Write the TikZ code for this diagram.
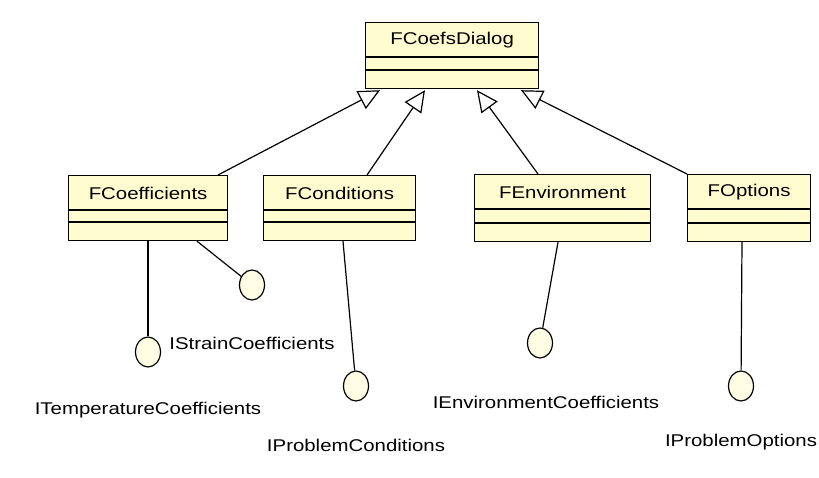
\documentclass[tikz,border=0pt]{standalone}
\usepackage{fontspec}
\setmainfont[FakeStretch=1.2]{Liberation Sans}
\usetikzlibrary{arrows.meta,calc,shapes.geometric}
\definecolor{clsfill}{RGB}{255,252,208}
\definecolor{ifill}{RGB}{255,253,228}
\tikzset{
  classbox/.style={draw=black, fill=clsfill, line width=0.9pt, inner sep=0pt, anchor=north west},
  compline/.style={draw=black, line width=0.9pt},
  classname/.style={font=\fontsize{12.75pt}{14pt}\selectfont, inner sep=0pt},
  iface/.style={draw=black, fill=ifill, ellipse, line width=0.9pt, minimum width=25*0.75pt, minimum height=30*0.75pt, inner sep=0pt},
  ilabel/.style={font=\fontsize{12.75pt}{14pt}\selectfont, inner sep=0pt},
  realize/.style={draw=black, line width=0.9pt},
  inherit/.style={draw=black, line width=0.9pt, -{Triangle[open, length=16pt, width=15pt, fill=white]}}
}
% #1 name, #2 x, #3 y top, #4 width, #5 height, #6 line1 offset, #7 line2 offset, #8 text
\newcommand\umlclass[8]{%
  \node[classbox, minimum width=#4*0.75pt, minimum height=#5*0.75pt] (#1) at (#2,#3) {};
  \draw[compline] ($(#1.north west)+(0,#6)$) -- ($(#1.north east)+(0,#6)$);
  \draw[compline] ($(#1.north west)+(0,#7)$) -- ($(#1.north east)+(0,#7)$);
  \node[classname] (#1-name) at ($(#1.north)+(0,#6/2+1)$) {#8};
}
\begin{document}
\begin{tikzpicture}[x=0.75pt, y=-0.75pt]
\useasboundingbox[fill=white] (0,0) rectangle (819,478);

\umlclass{dlg}{365}{22}{173}{66}{35}{48}{FCoefsDialog}
\umlclass{coef}{68}{175}{159}{65}{35}{47}{FCoefficients}
\umlclass{cond}{263}{175}{152}{65}{35}{47}{FConditions}
\umlclass{env}{474}{174}{176}{67}{35}{49}{FEnvironment}
\umlclass{opt}{687}{174}{123}{67}{35}{49}{FOptions}

% inheritance
\draw[inherit] ($(coef.north west)+(150,0)$) -- ($(dlg.south west)+(15,1)$);
\draw[inherit] ($(cond.north west)+(104,0)$) -- ($(dlg.south west)+(60,1)$);
\draw[inherit] ($(env.north west)+(64,0)$) -- ($(dlg.south west)+(112,1)$);
\draw[inherit] ($(opt.north west)+(0,0)$) -- ($(dlg.south west)+(156,1)$);

% interfaces
\node[iface] (itemp) at (148,352) {};
\node[ilabel] (itemp-l) at (148,410) {ITemperatureCoefficients};
\node[iface] (istrain) at (252,285) {};
\node[ilabel] (istrain-l) at (252,343) {IStrainCoefficients};
\node[iface] (iprobc) at (356,386) {};
\node[ilabel] (iprobc-l) at (356,445) {IProblemConditions};
\node[iface] (ienv) at (540,343) {};
\node[ilabel] (ienv-l) at (546,402) {IEnvironmentCoefficients};
\node[iface] (iprobo) at (741,386) {};
\node[ilabel] (iprobo-l) at (741,442) {IProblemOptions};

\draw[realize] ($(coef.south west)+(80,0)$) -- (itemp);
\draw[realize] ($(coef.south west)+(129,0)$) -- (istrain);
\draw[realize] ($(cond.south west)+(80,0)$) -- (iprobc);
\draw[realize] ($(env.south west)+(84,0)$) -- (ienv);
\draw[realize] ($(opt.south west)+(55,0)$) -- (iprobo);
\end{tikzpicture}
\end{document}
